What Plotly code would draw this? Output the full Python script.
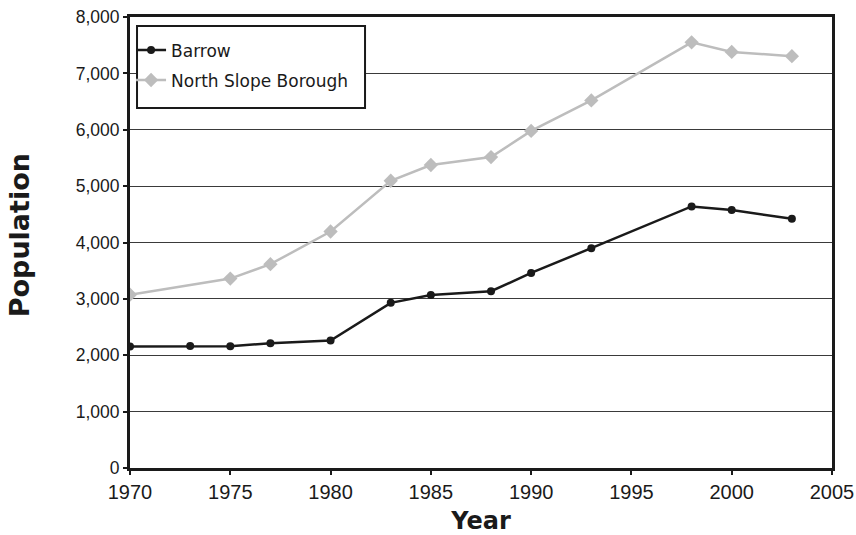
import plotly.graph_objects as go

years_barrow = [1970, 1973, 1975, 1977, 1980, 1983, 1985, 1988, 1990, 1993, 1998, 2000, 2003]
barrow = [2155, 2165, 2160, 2215, 2260, 2930, 3070, 3135, 3460, 3900, 4640, 4575, 4420]

years_nsb = [1970, 1975, 1977, 1980, 1983, 1985, 1988, 1990, 1993, 1998, 2000, 2003]
nsb = [3075, 3360, 3615, 4195, 5095, 5375, 5515, 5980, 6520, 7550, 7380, 7305]

x_ticks = [1970, 1975, 1980, 1985, 1990, 1995, 2000, 2005]
y_ticks = [0, 1000, 2000, 3000, 4000, 5000, 6000, 7000, 8000]

tick_font = "Liberation Sans, Arial, sans-serif"
wide_font = "DejaVu Sans, Verdana, sans-serif"

fig = go.Figure()
fig.add_trace(go.Scatter(
    x=years_barrow, y=barrow, name="Barrow", mode="lines+markers",
    legendgroup="a",
    line=dict(color="#1a1a1a", width=2.5),
    marker=dict(symbol="circle", size=8, color="#1a1a1a"),
))
fig.add_trace(go.Scatter(
    x=years_nsb, y=nsb, name="North Slope Borough", mode="lines+markers",
    legendgroup="b",
    line=dict(color="#bdbdbd", width=2.5),
    marker=dict(symbol="diamond", size=11, color="#bdbdbd"),
))

# legend frame
fig.add_shape(type="rect", xref="paper", yref="paper",
              x0=0.0100, x1=0.3348, y0=0.798, y1=0.980,
              line=dict(color="#1a1a1a", width=2), fillcolor="white", layer="above")

# y-axis title
fig.add_annotation(text="<b>Population</b>", xref="paper", yref="paper",
                   x=0, y=0.516, xanchor="center", yanchor="middle",
                   xshift=-111, textangle=-90, showarrow=False,
                   font=dict(family=wide_font, size=27, color="#1a1a1a"))

fig.update_layout(
    width=856, height=535,
    margin=dict(l=130, r=24, t=17, b=67),
    paper_bgcolor="white", plot_bgcolor="white",
    font=dict(family=tick_font, size=18, color="#1a1a1a"),
    showlegend=True,
    legend=dict(
        x=0.0015, y=0.966, xanchor="left", yanchor="top",
        borderwidth=0, bgcolor="rgba(0,0,0,0)",
        font=dict(family=wide_font, size=17, color="#1a1a1a"),
        itemwidth=30, tracegroupgap=5,
    ),
    xaxis=dict(
        range=[1970, 2005], tickmode="array", tickvals=x_ticks,
        ticktext=[str(t) for t in x_ticks],
        showgrid=False, zeroline=False, automargin=False,
        showline=True, linecolor="#1a1a1a", linewidth=3, mirror=True,
        ticks="outside", ticklen=4, tickwidth=2, tickcolor="#1a1a1a",
        tickfont=dict(family=tick_font, size=20),
        ticklabeloverflow="allow",
        title=dict(text="<b>Year</b>", font=dict(family=wide_font, size=24), standoff=12),
    ),
    yaxis=dict(
        range=[0, 8000], tickmode="array", tickvals=y_ticks,
        ticktext=[f"{t:,}" for t in y_ticks],
        showgrid=True, gridcolor="#3a3a3a", gridwidth=1, zeroline=False, automargin=False,
        showline=True, linecolor="#1a1a1a", linewidth=3, mirror=True,
        ticks="outside", ticklen=4, tickwidth=2, tickcolor="#1a1a1a",
        tickfont=dict(family=tick_font, size=17.5),
        ticklabeloverflow="allow",
    ),
)

fig.write_html("out.html", config={"displayModeBar": False},
               post_script="document.body.style.margin='0';")
